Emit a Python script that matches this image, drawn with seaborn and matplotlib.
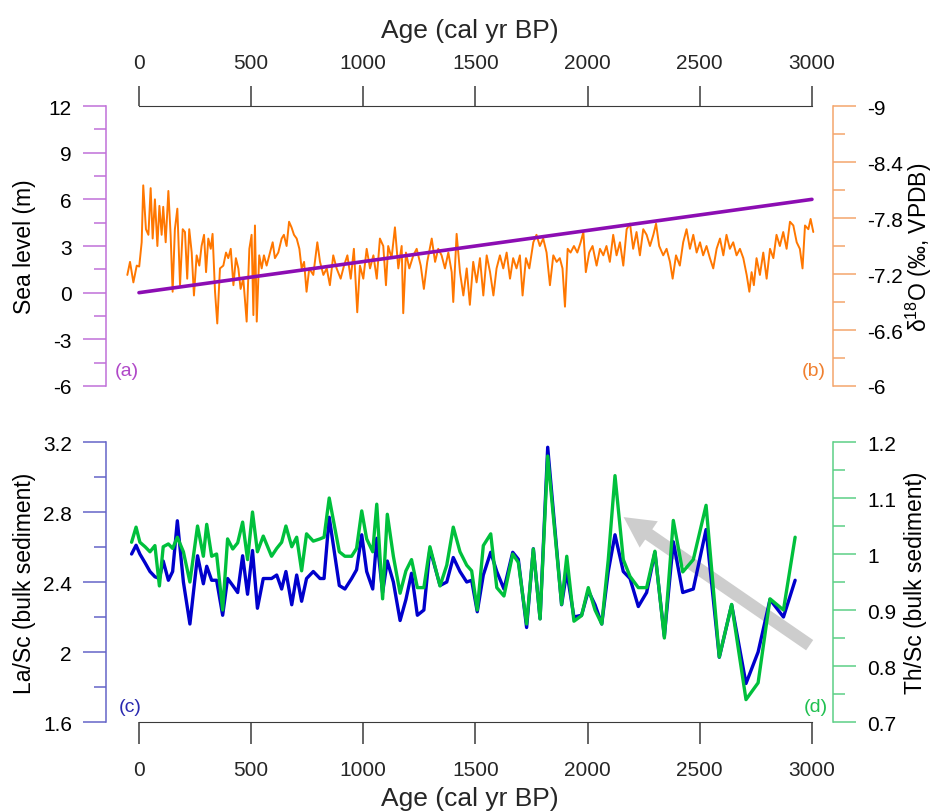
import matplotlib
matplotlib.use("Agg")
import matplotlib.pyplot as plt
from matplotlib.ticker import MultipleLocator, FuncFormatter
import seaborn as sns

# ================= DATA =================
# (b) oxygen isotope record
d18o_age = [
    -52, -40, -25, -10, 1, 12, 19, 31, 42, 52,
    61, 71, 82, 91, 101, 108, 119, 131, 141, 150,
    160, 171, 183, 195, 205, 215, 224, 235, 245, 257,
    269, 279, 290, 299, 309, 320, 328, 339, 349, 361,
    376, 388, 398, 409, 421, 432, 443, 453, 465, 480,
    492, 502, 510, 517, 525, 536, 547, 557, 569, 584,
    596, 606, 621, 636, 646, 658, 669, 680, 691, 703,
    715, 725, 736, 747, 759, 777, 795, 807, 822, 837,
    851, 866, 881, 899, 914, 929, 944, 958, 973, 985,
    1000, 1015, 1030, 1045, 1060, 1074, 1089, 1101, 1111, 1126,
    1141, 1156, 1171, 1178, 1190, 1205, 1223, 1238, 1256, 1270,
    1285, 1305, 1320, 1334, 1349, 1364, 1379, 1394, 1401, 1416,
    1431, 1446, 1461, 1475, 1490, 1505, 1520, 1535, 1550, 1565,
    1580, 1594,
    1609, 1624, 1639, 1654, 1668, 1683, 1698, 1710, 1725, 1740,
    1758, 1772, 1787, 1802, 1817, 1832, 1847, 1862, 1876, 1888,
    1899, 1911, 1924, 1939, 1954, 1969, 1981, 1992, 2007, 2022,
    2040, 2055, 2070, 2084, 2099, 2114, 2129, 2144, 2159, 2174,
    2189, 2203, 2218, 2233, 2248, 2263, 2278, 2293, 2305, 2319,
    2337, 2352, 2367, 2379, 2394, 2411, 2426, 2441, 2456, 2471,
    2486, 2501, 2515, 2530, 2545, 2560, 2575, 2590, 2605, 2619,
    2634, 2649, 2664, 2679, 2694, 2709, 2721, 2731, 2741, 2753,
    2768, 2783, 2798, 2813, 2828, 2842, 2857, 2872, 2887, 2902,
    2917, 2932, 2946, 2958, 2969, 2984, 2994, 3006,
]
d18o = [
    -7.19, -7.33, -7.11, -7.29, -7.28, -7.54, -8.15, -7.68, -7.62, -8.12,
    -7.58, -8.00, -7.50, -7.93, -7.62, -7.92, -7.54, -8.09, -7.62, -7.01,
    -7.68, -7.90, -7.08, -7.68, -7.65, -7.15, -7.68, -7.43, -6.97, -7.40,
    -7.29, -7.50, -7.62, -7.22, -7.58, -7.47, -7.63, -7.01, -6.67, -7.26,
    -7.29, -7.43, -7.37, -7.47, -7.08, -7.37, -7.26, -7.04, -7.15, -6.69,
    -7.47, -7.62, -6.76, -7.72, -6.69, -7.40, -7.26, -7.40, -7.29, -7.43,
    -7.54, -7.37, -7.43, -7.58, -7.62, -7.50, -7.76, -7.70, -7.62, -7.58,
    -7.47, -7.26, -7.33, -7.01, -7.26, -7.19, -7.54, -7.33, -7.19, -7.26,
    -7.08, -7.40, -7.26, -7.15, -7.29, -7.40, -7.15, -7.47, -6.79, -7.29,
    -7.15, -7.47, -7.26, -7.40, -7.15, -7.58, -7.50, -7.08, -7.50, -7.37,
    -7.70, -7.26, -7.50, -6.78, -7.43, -7.26, -7.40, -7.47, -7.29, -7.04,
    -7.33, -7.58, -7.33, -7.47, -7.40, -7.26, -7.43, -7.22, -6.90, -7.63,
    -7.22, -6.97, -7.26, -6.87, -7.33, -7.11, -7.37, -6.97, -7.40, -7.22,
    -6.97, -7.26,
    -7.40, -7.26, -7.43, -7.15, -7.37, -7.26, -7.40, -6.97, -7.37, -7.26,
    -7.54, -7.62, -7.50, -7.58, -7.43, -7.08, -7.40, -7.33, -7.37, -7.26,
    -6.85, -7.47, -7.43, -7.50, -7.43, -7.54, -7.65, -7.22, -7.43, -7.50,
    -7.29, -7.47, -7.40, -7.50, -7.33, -7.62, -7.40, -7.54, -7.29, -7.68,
    -7.74, -7.47, -7.65, -7.40, -7.68, -7.62, -7.50, -7.62, -7.74, -7.50,
    -7.40, -7.47, -7.33, -7.15, -7.40, -7.29, -7.54, -7.68, -7.47, -7.62,
    -7.43, -7.54, -7.40, -7.50, -7.37, -7.26, -7.47, -7.58, -7.40, -7.62,
    -7.47, -7.54, -7.40, -7.47, -7.37, -7.19, -7.01, -7.22, -7.08, -7.37,
    -7.19, -7.43, -7.15, -7.47, -7.37, -7.62, -7.50, -7.65, -7.47, -7.76,
    -7.72, -7.54, -7.47, -7.26, -7.72, -7.68, -7.79, -7.65,
]

# (a) sea level
sea_age = [0, 3000]
sea_level = [0, 6]

# (c) La/Sc and (d) Th/Sc of bulk sediment
ratio_age = [
    -33, -13, 4, 27, 49, 71, 91, 108, 131, 150,
    171, 198, 227, 261, 287, 302, 324, 346, 373, 395,
    418, 440, 462, 484, 506, 528, 554, 591, 614, 636,
    655, 681, 703, 725, 747, 777, 807, 825, 848, 893,
    918, 948, 970, 993, 1015, 1042, 1060, 1086, 1107, 1134,
    1164, 1190, 1215, 1241, 1270, 1297, 1342, 1372, 1401, 1431,
    1461, 1483, 1508, 1535, 1568, 1595, 1627, 1666, 1691, 1728,
    1758, 1788, 1822, 1884, 1907, 1939, 1973, 2003, 2033, 2063,
    2092, 2122, 2159, 2189, 2226, 2263, 2300, 2342, 2382, 2424,
    2471, 2528, 2587, 2642, 2706, 2760, 2813, 2873, 2925,
]
la_sc = [
    2.56, 2.61, 2.56, 2.51, 2.46, 2.43, 2.42, 2.52, 2.41, 2.46,
    2.75, 2.40, 2.16, 2.55, 2.39, 2.49, 2.41, 2.41, 2.21, 2.42,
    2.38, 2.34, 2.55, 2.33, 2.58, 2.25, 2.42, 2.42, 2.44, 2.36,
    2.46, 2.27, 2.44, 2.29, 2.42, 2.46, 2.42, 2.42, 2.77, 2.38,
    2.36, 2.42, 2.47, 2.67, 2.46, 2.36, 2.65, 2.34, 2.52, 2.40,
    2.18, 2.30, 2.45, 2.21, 2.24, 2.59, 2.38, 2.40, 2.54, 2.46,
    2.40, 2.41, 2.23, 2.44, 2.57, 2.46, 2.36, 2.57, 2.53, 2.14,
    2.59, 2.19, 3.17, 2.27, 2.46, 2.20, 2.21, 2.35, 2.27, 2.16,
    2.46, 2.67, 2.46, 2.42, 2.26, 2.34, 2.57, 2.09, 2.63, 2.34,
    2.36, 2.70, 1.97, 2.27, 1.82, 2.00, 2.30, 2.20, 2.41,
]
th_sc = [
    1.021, 1.048, 1.021, 1.013, 1.004, 1.015, 0.943, 1.013, 1.018, 1.010,
    1.030, 1.004, 0.950, 1.050, 0.996, 1.053, 0.996, 1.000, 0.900, 1.027,
    1.009, 1.020, 1.057, 0.990, 1.075, 1.004, 1.032, 0.996, 1.010, 1.021,
    1.050, 1.013, 1.030, 0.970, 1.036, 1.023, 1.027, 1.030, 1.100, 1.004,
    0.996, 0.996, 1.010, 1.077, 1.027, 1.004, 1.089, 0.920, 1.071, 0.996,
    0.930, 0.970, 0.990, 0.940, 0.940, 1.013, 0.943, 0.980, 1.048, 1.004,
    0.980, 0.970, 0.900, 1.015, 1.036, 0.940, 0.925, 1.000, 0.985, 0.875,
    1.009, 0.884, 1.175, 0.910, 0.996, 0.880, 0.890, 0.940, 0.900, 0.875,
    0.990, 1.140, 0.990, 0.960, 0.940, 0.940, 1.005, 0.850, 1.060, 0.968,
    0.990, 1.087, 0.816, 0.910, 0.740, 0.770, 0.920, 0.900, 1.030,
]

AGE_TICKS = [0, 500, 1000, 1500, 2000, 2500, 3000]

# ================= STYLE =================
sns.set_style("ticks")
plt.rcParams["font.family"] = ["Liberation Sans", "DejaVu Sans"]
plt.rcParams["axes.unicode_minus"] = False
plt.rcParams["mathtext.default"] = "regular"

TICK_FS = 15
LABEL_FS = 16.5
XLABEL_FS = 19
AXIS_GREY = "#3a3a3a"

fmt = FuncFormatter(lambda v, p: f"{round(v, 2):g}")

fig = plt.figure(figsize=(9.34, 8.12), dpi=100)
ax_a = fig.add_axes([0.1135, 0.5234, 0.7784, 0.3448])
ax_b = ax_a.twinx()
ax_c = fig.add_axes([0.1135, 0.1096, 0.7784, 0.3448])
ax_d = ax_c.twinx()

for ax in (ax_a, ax_b, ax_c, ax_d):
    ax.set_xlim(-147, 3094)
    ax.set_facecolor("none")
    for s in ax.spines.values():
        s.set_visible(False)


def style_y(ax, side, color, lo, hi, major, minor):
    ax.set_ylim(lo, hi)
    ax.yaxis.set_major_locator(MultipleLocator(major))
    ax.yaxis.set_minor_locator(MultipleLocator(minor))
    ax.yaxis.set_major_formatter(fmt)
    sp = ax.spines[side]
    sp.set_visible(True)
    sp.set_color(color)
    sp.set_linewidth(1.1)
    on_left = side == "left"
    ax.tick_params(axis="y", which="both", direction="out", color=color, width=1.1,
                   left=on_left, right=not on_left,
                   labelleft=on_left, labelright=not on_left)
    ax.tick_params(axis="y", which="major", length=16.5, labelsize=TICK_FS,
                   pad=8, labelcolor="black")
    ax.tick_params(axis="y", which="minor", length=8.5)


# ================= (a) / (b) =================
sns.lineplot(x=d18o_age, y=d18o, ax=ax_b, color="#ff7700", linewidth=1.4)
sns.lineplot(x=sea_age, y=sea_level, ax=ax_a, color="#8c0db3", linewidth=2.6)
ax_b.set_zorder(ax_a.get_zorder() - 1)
ax_a.patch.set_visible(False)

style_y(ax_a, "left", "#c070d8", -6, 12, 3, 1.5)
style_y(ax_b, "right", "#f4a66c", -6, -9, 0.6, 0.3)
ax_b.set_ylim(-6, -9)

ax_a.set_ylabel("Sea level (m)", fontsize=LABEL_FS, color="black")
ax_a.yaxis.set_label_coords(-0.096, 0.5)
ax_b.set_ylabel("δ$^{18}$O (‰, VPDB)", fontsize=LABEL_FS, color="black")
ax_b.yaxis.set_label_coords(1.097, 0.5)

ax_a.spines["top"].set_visible(True)
ax_a.spines["top"].set_bounds(0, 3000)
ax_a.spines["top"].set_color(AXIS_GREY)
ax_a.set_xticks(AGE_TICKS)
ax_a.xaxis.set_major_formatter(fmt)
ax_a.tick_params(axis="x", which="major", direction="out", length=14.5, width=1.1,
                 color=AXIS_GREY, top=True, bottom=False, labeltop=True,
                 labelbottom=False, labelsize=TICK_FS, pad=10)
ax_a.xaxis.set_label_position("top")
ax_a.set_xlabel("Age (cal yr BP)", fontsize=XLABEL_FS)
ax_a.xaxis.set_label_coords(0.5, 1.245)

ax_a.text(0.012, 0.057, "(a)", transform=ax_a.transAxes, color="#b048c8",
          fontsize=14, ha="left", va="center")
ax_b.text(0.99, 0.057, "(b)", transform=ax_b.transAxes, color="#f08030",
          fontsize=14, ha="right", va="center")

# ================= (c) / (d) =================
ax_c.annotate("", xy=(2150, 2.78), xytext=(3000, 2.03),
              arrowprops=dict(arrowstyle="simple,head_length=1.1,head_width=1.15,tail_width=0.45",
                              mutation_scale=20, color="#c8c8c8", lw=0, alpha=0.9),
              zorder=1)
sns.lineplot(x=ratio_age, y=la_sc, ax=ax_c, color="#0000cc", linewidth=2.4)
sns.lineplot(x=ratio_age, y=th_sc, ax=ax_d, color="#00c03c", linewidth=2.4)

style_y(ax_c, "left", "#6464c8", 1.6, 3.2, 0.4, 0.2)
style_y(ax_d, "right", "#5ccf86", 0.7, 1.2, 0.1, 0.05)

ax_c.set_ylabel("La/Sc (bulk sediment)", fontsize=LABEL_FS, color="black")
ax_c.yaxis.set_label_coords(-0.096, 0.5)
ax_d.set_ylabel("Th/Sc (bulk sediment)", fontsize=LABEL_FS, color="black")
ax_d.yaxis.set_label_coords(1.097, 0.5)

ax_c.spines["bottom"].set_visible(True)
ax_c.spines["bottom"].set_bounds(0, 3000)
ax_c.spines["bottom"].set_color(AXIS_GREY)
ax_c.set_xticks(AGE_TICKS)
ax_c.xaxis.set_major_formatter(fmt)
ax_c.tick_params(axis="x", which="major", direction="out", length=15.5, width=1.1,
                 color=AXIS_GREY, bottom=True, top=False, labelbottom=True,
                 labelsize=TICK_FS, pad=12)
ax_c.set_xlabel("Age (cal yr BP)", fontsize=XLABEL_FS)
ax_c.xaxis.set_label_coords(0.5, -0.23)

ax_c.text(0.017, 0.057, "(c)", transform=ax_c.transAxes, color="#2a2ab0",
          fontsize=14, ha="left", va="center")
ax_d.text(0.993, 0.057, "(d)", transform=ax_d.transAxes, color="#20c050",
          fontsize=14, ha="right", va="center")

plt.savefig("out.png", dpi=100)
